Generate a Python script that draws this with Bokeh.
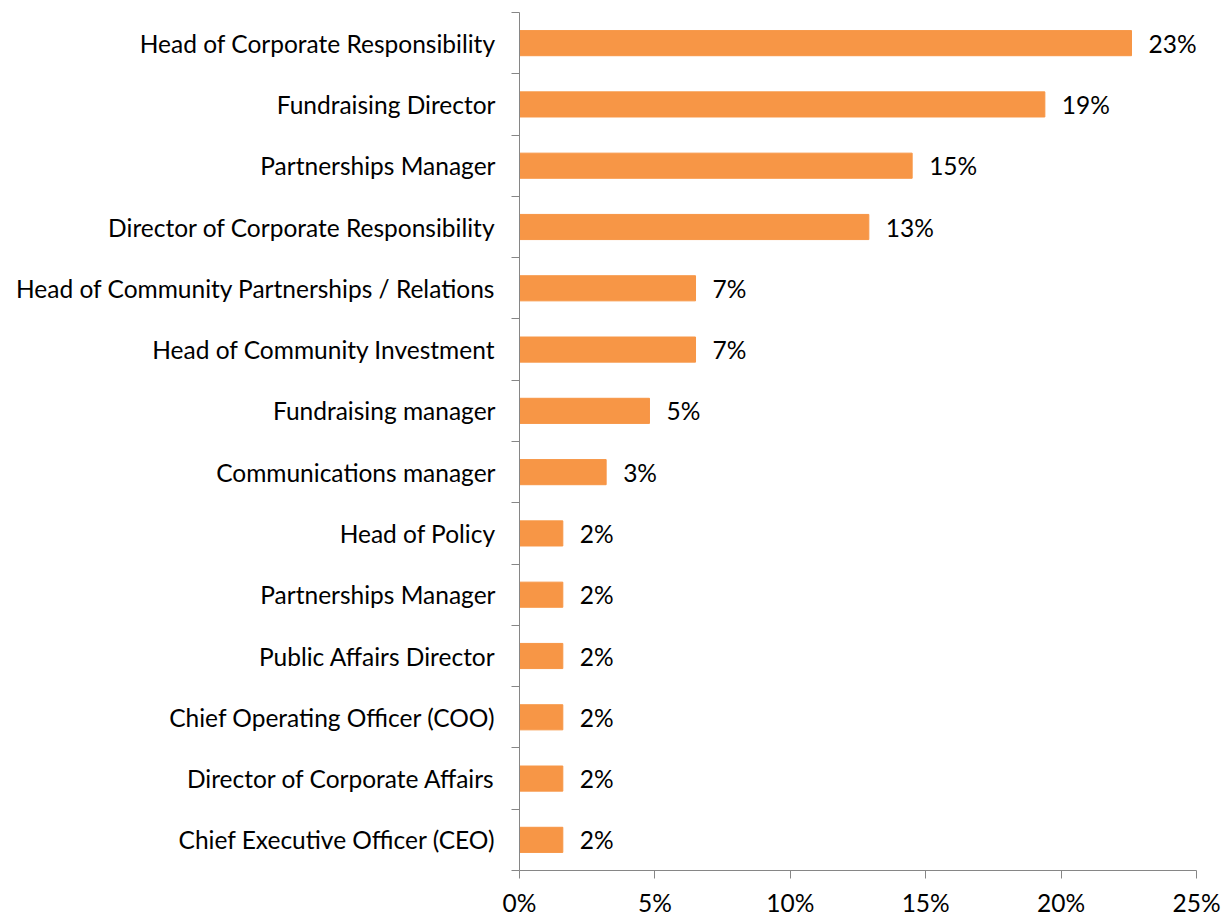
from bokeh.plotting import figure
from bokeh.models import Range1d, FixedTicker, PrintfTickFormatter, ColumnDataSource
from bokeh.core.properties import value
from bokeh.embed import file_html
from bokeh.resources import INLINE

categories = [
    "Head of Corporate Responsibility",
    "Fundraising Director",
    "Partnerships Manager",
    "Director of Corporate Responsibility",
    "Head of Community Partnerships / Relations",
    "Head of Community Investment",
    "Fundraising manager",
    "Communications manager",
    "Head of Policy",
    "Partnerships Manager",
    "Public Affairs Director",
    "Chief Operating Officer (COO)",
    "Director of Corporate Affairs",
    "Chief Executive Officer (CEO)",
]
values = [22.6, 19.4, 14.5, 12.9, 6.5, 6.5, 4.8, 3.2, 1.6, 1.6, 1.6, 1.6, 1.6, 1.6]
value_labels = ["23%", "19%", "15%", "13%", "7%", "7%", "5%", "3%", "2%", "2%", "2%", "2%", "2%", "2%"]
x_ticks = [0, 5, 10, 15, 20, 25]

FONT = "Lato"
FS = "24.5px"
BAR = "#F79646"
AX = "#868686"

n = len(categories)
ypos = [i + 0.5 for i in range(n)]
src = ColumnDataSource(dict(y=ypos, v=values, lab=value_labels))

p = figure(width=1221, height=919, output_backend="svg", toolbar_location=None,
           x_range=Range1d(0, 25), y_range=Range1d(n, 0),
           min_border_left=519, min_border_right=25, min_border_top=12, min_border_bottom=47)
p.outline_line_color = None
p.xgrid.visible = False
p.ygrid.visible = False

p.hbar(y="y", right="v", left=0, height=0.41, color=BAR, source=src)
p.text(x="v", y="y", text="lab", source=src, x_offset=17, text_baseline="middle",
       text_align="left", text_font=value(FONT), text_font_size=FS, text_color="#000000")

# y axis: labels at centers, ticks at boundaries
ya = p.yaxis[0]
ya.ticker = FixedTicker(ticks=ypos, minor_ticks=list(range(n + 1)))
ya.major_label_overrides = {y: c for y, c in zip(ypos, categories)}
ya.major_tick_out = 0
ya.major_tick_in = 0
ya.minor_tick_out = 8
ya.minor_tick_in = 0
ya.minor_tick_line_color = AX
ya.axis_line_color = AX
ya.major_label_standoff = 16
ya.major_label_text_font = FONT
ya.major_label_text_font_size = FS
ya.major_label_text_color = "#000000"

xa = p.xaxis[0]
xa.ticker = FixedTicker(ticks=x_ticks, minor_ticks=[])
xa.formatter = PrintfTickFormatter(format="%d%%")
xa.major_tick_out = 8
xa.major_tick_in = 0
xa.major_tick_line_color = AX
xa.axis_line_color = AX
xa.major_label_standoff = 9
xa.major_label_text_font = FONT
xa.major_label_text_font_size = FS
xa.major_label_text_color = "#000000"

open("out.html", "w").write(file_html(p, INLINE))
